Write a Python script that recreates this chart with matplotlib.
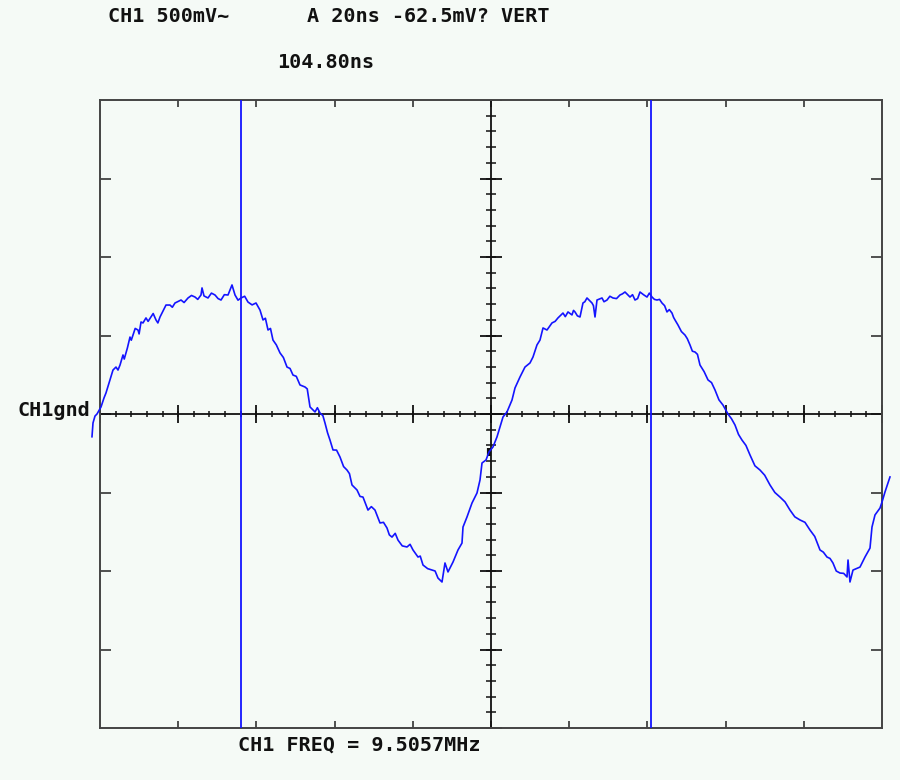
import numpy as np
import matplotlib
matplotlib.use("Agg")
import matplotlib.pyplot as plt

# --- SCOPE SETTINGS ---
time_per_div = 20      # ns / div
volt_per_div = 500     # mV / div
n_hdiv = 10
n_vdiv = 8

# --- CAPTURED TRACE (ns, mV) ---
t_ns = [-2.05, -1.79, -1.28, -0.77, 0.26, 1.02, 1.53, 2.56, 3.32, 4.09,
        4.6, 5.12, 5.88, 6.2, 6.65, 7.0, 7.67, 8.0, 8.44, 9.0,
        9.72, 10.0, 10.49, 11.0, 11.76, 12.3, 13.04, 13.6, 14.32, 14.8,
        15.35, 16.88, 17.90, 18.5, 19.18, 20.72, 21.5, 22.51, 23.4, 24.30,
        25.0, 25.83, 26.09, 26.60, 27.62, 28.5, 29.41, 30.2, 30.95, 31.8,
        32.74, 33.76, 34.53, 35.3, 36.06, 37.0, 37.85, 38.9, 39.90, 40.92,
        41.69, 42.3, 42.97, 43.6, 44.24, 45.1, 46.04, 46.9, 47.83, 48.6,
        49.36, 50.2, 51.15, 52.43, 53.0, 53.71, 54.99, 55.6, 56.27, 57.0,
        57.54, 58.2, 58.82, 59.59, 60.5, 61.38, 62.3, 63.17, 63.8, 64.45,
        65.73, 66.5, 67.26, 68.54, 69.4, 70.33, 71.61, 72.5, 73.40, 74.0,
        74.68, 75.5, 76.21, 77.3, 78.52, 79.3, 80.05, 81.33, 81.9, 82.61,
        83.8, 84.91, 85.7, 86.44, 87.47, 88.23, 89.00, 90.28, 91.56, 92.58,
        92.84, 93.86, 95.14, 96.42, 97.19, 97.70, 98.72, 99.49, 100.51, 101.53,
        102.30, 103.07, 104.09, 105.37, 106.14, 107.42, 108.69, 109.97, 110.74, 111.76,
        112.53, 113.30, 114.32, 115.60, 116.4, 117.13, 118.41, 119.0, 119.69, 120.71,
        121.1, 121.48, 122.1, 122.76, 123.52, 124.0, 124.55, 125.83, 126.2, 126.60,
        127.11, 128.39, 128.9, 129.67, 130.4, 131.20, 132.1, 132.99, 133.6, 134.27,
        135.55, 136.2, 136.83, 137.5, 138.11, 139.0, 139.90, 140.5, 141.18, 141.8,
        142.45, 143.1, 143.73, 144.4, 145.01, 145.6, 146.29, 146.7, 147.06, 147.82,
        148.7, 149.61, 150.2, 150.89, 151.5, 152.17, 152.8, 153.45, 154.5, 155.50,
        156.4, 157.29, 158.3, 159.33, 160.61, 161.5, 162.40, 163.3, 164.19, 165.2,
        166.24, 167.5, 168.80, 170.0, 171.35, 172.6, 173.91, 175.2, 176.47, 177.7,
        179.03, 180.3, 181.58, 182.8, 184.14, 185.0, 185.93, 186.7, 187.46, 188.3,
        189.26, 190.2, 191.05, 191.31, 191.81, 192.58, 194.37, 195.65, 196.93, 197.44,
        198.21, 199.49, 200.00, 200.76, 202.04]
v_mv = [-145, -57, -13, 0, 45, 102, 134, 217, 280, 299,
        280, 312, 376, 350, 389, 420, 490, 470, 503, 545,
        535, 510, 586, 580, 612, 590, 618, 640, 599, 580,
        618, 694, 694, 680, 707, 726, 710, 739, 755, 745,
        730, 758, 803, 752, 739, 770, 758, 735, 726, 760,
        758, 822, 758, 725, 739, 750, 713, 695, 707, 662,
        599, 610, 535, 545, 471, 440, 389, 360, 299, 290,
        248, 240, 185, 172, 160, 45, 13, 40, 6, -10,
        -57, -120, -166, -229, -230, -274, -335, -357, -380, -452,
        -484, -525, -529, -612, -590, -612, -694, -690, -726, -770,
        -784, -760, -803, -840, -847, -830, -866, -911, -905, -962,
        -985, -994, -1000, -1045, -1070, -949, -1006, -943, -866, -822,
        -720, -656, -567, -503, -420, -312, -293, -242, -210, -146,
        -83, -19, 13, 89, 166, 236, 299, 325, 363, 440,
        471, 548, 535, 580, 590, 612, 643, 620, 650, 631,
        660, 650, 625, 618, 707, 715, 739, 707, 690, 618,
        726, 739, 715, 726, 750, 739, 735, 758, 765, 777,
        745, 760, 726, 735, 777, 760, 745, 770, 745, 730,
        726, 730, 707, 690, 650, 665, 643, 615, 599, 567,
        525, 503, 480, 440, 400, 395, 380, 312, 270, 217,
        200, 153, 90, 57, 0, -30, -70, -130, -166, -200,
        -261, -330, -357, -390, -452, -500, -529, -560, -612, -655,
        -675, -690, -739, -780, -866, -880, -911, -920, -949, -1000,
        -1013, -1015, -1038, -930, -1070, -994, -975, -911, -854, -720,
        -643, -599, -561, -497, -401]

# cursors
cursor_ns = [36.0, 140.8]
delta_label = "104.80ns"
header_left = "CH1 500mV~"
header_right = "A 20ns -62.5mV? VERT"
freq_label = "CH1 FREQ = 9.5057MHz"
gnd_label = "CH1gnd"

bg = "#f5faf6"
trace_col = "#1414ff"
ink = "#111111"

fig = plt.figure(figsize=(9, 7.8), dpi=100, facecolor=bg)
ax = fig.add_axes([100 / 900, 52 / 780, 782 / 900, 628 / 780], facecolor=bg)

x_max = time_per_div * n_hdiv
y_half = volt_per_div * n_vdiv / 2
ax.set_xlim(0, x_max)
ax.set_ylim(-y_half, y_half)

for s in ax.spines.values():
    s.set_color("#444444")
    s.set_linewidth(1.4)

# division ticks on the frame
ax.set_xticks(np.arange(time_per_div, x_max, time_per_div))
ax.set_yticks(np.arange(-y_half + volt_per_div, y_half, volt_per_div))
ax.tick_params(axis="x", which="both", direction="in", length=5, width=1.1,
               color="#222222", top=True, bottom=True, labelbottom=False)
ax.tick_params(axis="y", which="both", direction="in", length=8, width=1.1,
               color="#222222", left=True, right=True, labelleft=False)

# centre graticule with fine ticks
ax.axhline(0, color=ink, lw=1.3, zorder=2)
ax.axvline(x_max / 2, color=ink, lw=1.3, zorder=2)
fine_x = np.arange(0, x_max + 0.01, time_per_div / 5)
fine_y = np.arange(-y_half, y_half + 0.01, volt_per_div / 5)
major_x = np.arange(0, x_max + 0.01, time_per_div)
major_y = np.arange(-y_half, y_half + 0.01, volt_per_div)
ax.plot(fine_x, np.zeros_like(fine_x), ls="none", marker="|", ms=4.5,
        mew=1.1, color=ink, zorder=2)
ax.plot(major_x, np.zeros_like(major_x), ls="none", marker="|", ms=13,
        mew=1.3, color=ink, zorder=2)
ax.plot(np.full_like(fine_y, x_max / 2), fine_y, ls="none", marker="_", ms=7.5,
        mew=1.1, color=ink, zorder=2)
ax.plot(np.full_like(major_y, x_max / 2), major_y, ls="none", marker="_", ms=16,
        mew=1.3, color=ink, zorder=2)

# trigger marker
ax.plot([99.4], [-245], ls="none", marker="|", ms=6, mew=3, color=ink, zorder=4)

# cursors
for c in cursor_ns:
    ax.axvline(c, color=trace_col, lw=1.3, zorder=3)

# trace
ax.plot(t_ns, v_mv, color=trace_col, lw=1.2, clip_on=False, zorder=5)

font = dict(family="DejaVu Sans Mono", weight="bold", size=14.5, color=ink)
fig.text(108 / 900, 1 - 16 / 780, header_left, va="center", ha="left", **font)
fig.text(307 / 900, 1 - 16 / 780, header_right, va="center", ha="left", **font)
fig.text(277 / 900, 1 - 63 / 780, delta_label, va="center", ha="left", **font)
fig.text(90 / 900, 1 - 410 / 780, gnd_label, va="center", ha="right", **font)
fig.text(238 / 900, 1 - 745 / 780, freq_label, va="center", ha="left", **font)

fig.savefig("out.png", dpi=100, facecolor=bg)
